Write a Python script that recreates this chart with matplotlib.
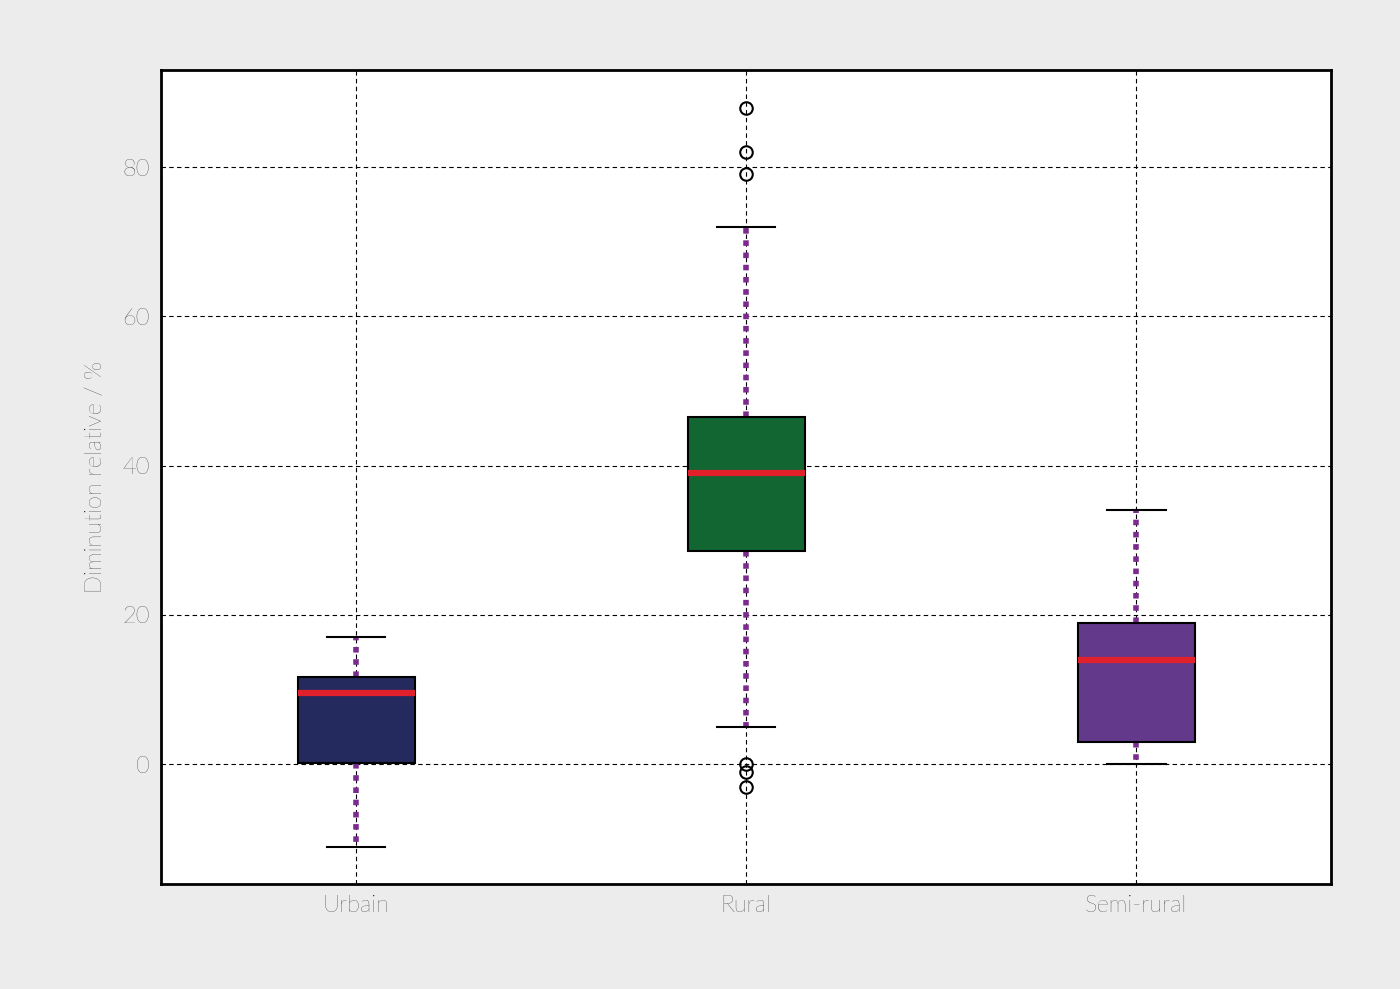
import matplotlib
matplotlib.use("Agg")
import matplotlib.pyplot as plt

categories = ["Urbain", "Rural", "Semi-rural"]
whislo = [-11.1, 5.0, 0.0]
q1 = [0.1, 28.5, 3.0]
med = [9.5, 39.0, 13.9]
q3 = [11.7, 46.5, 18.9]
whishi = [17.0, 72.0, 34.0]
fliers = [[], [88.0, 82.0, 79.1, 0.0, -1.1, -3.1], []]
colors = ["#252a5e", "#116632", "#63398c"]

plt.rcParams['font.family'] = ['Lato', 'DejaVu Sans']
fig = plt.figure(figsize=(14, 9.89), dpi=100, facecolor="#ececec")
ax = fig.add_axes([0.115, 0.106, 0.836, 0.823])
ax.set_facecolor("white")

stats = [dict(label=c, whislo=a, q1=b, med=m, q3=d, whishi=e, fliers=f)
         for c, a, b, m, d, e, f in zip(categories, whislo, q1, med, q3, whishi, fliers)]
bp = ax.bxp(stats, positions=[1, 2, 3], widths=0.3, patch_artist=True,
            capwidths=0.15,
            boxprops=dict(edgecolor="black", linewidth=1.5),
            whiskerprops=dict(color="#7b2a8f", linewidth=4, linestyle=(0, (1, 1.2))),
            capprops=dict(color="black", linewidth=1.5),
            medianprops=dict(color="#e0202a", linewidth=4.5),
            flierprops=dict(marker="o", markerfacecolor="none", markeredgecolor="black",
                            markersize=9, markeredgewidth=1.5))
for p, c in zip(bp["boxes"], colors):
    p.set_facecolor(c)
for w in bp["whiskers"]:
    w.set_zorder(1)

ax.set_xlim(0.5, 3.5)
ax.set_ylim(-16.1, 93.0)
ax.set_yticks([0, 20, 40, 60, 80])
ax.grid(True, linestyle="--", color="black", linewidth=0.8, dashes=(4, 3))
ax.set_axisbelow(True)
for s in ax.spines.values():
    s.set_linewidth(2)
ax.tick_params(length=0, labelsize=17, pad=8)
for t in ax.get_xticklabels() + ax.get_yticklabels():
    t.set_fontweight("light")
ax.set_ylabel("Diminution relative / %", fontsize=17, fontweight="light", labelpad=12)
fig.savefig("out.png", dpi=100, facecolor=fig.get_facecolor())
